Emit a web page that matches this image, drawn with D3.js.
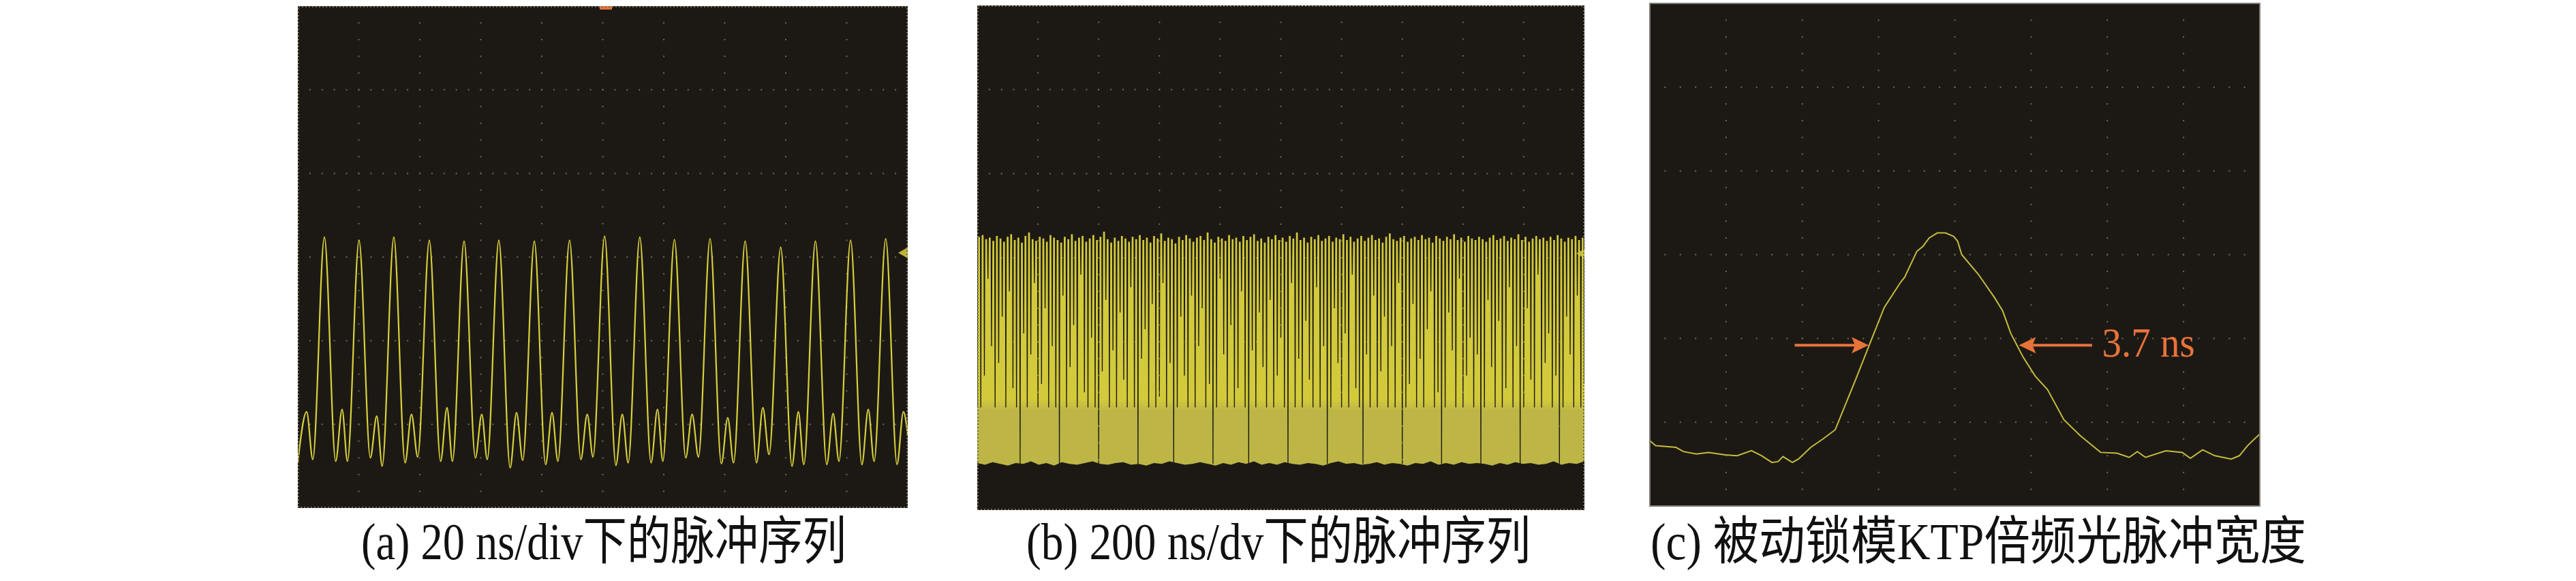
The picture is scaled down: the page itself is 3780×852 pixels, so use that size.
<!DOCTYPE html>
<html>
<head>
<meta charset="utf-8">
<style>
body { margin: 0; background: #fff; }
svg { display: block; }
.cap { font-family: "Liberation Serif", "Noto Sans CJK SC", serif; fill: #111; }
.lbl { font-family: "Liberation Serif", serif; }
</style>
<script src="https://cdn.jsdelivr.net/npm/d3@7/dist/d3.min.js"></script>
</head>
<body>
<script>

// ---------- data (time and level in screen divisions) ----------
var captions = ["(a) 20 ns/div下的脉冲序列", "(b) 200 ns/dv下的脉冲序列", "(c) 被动锁模KTP倍频光脉冲宽度"];
var divsX = [10, 10, 8];
var divsY = 6;

// (a) key points of the trace: [time, level]
var traceA = [
  [0.000, 0.55], [0.145, 1.15],
  [0.246, 0.58], [0.436, 3.24], [0.621, 0.56], [0.726, 1.18],
  [0.814, 0.56], [1.004, 3.20], [1.189, 0.60], [1.294, 1.10],
  [1.384, 0.50], [1.574, 3.24], [1.759, 0.54], [1.864, 1.12],
  [1.966, 0.61], [2.156, 3.20], [2.341, 0.56], [2.446, 1.20],
  [2.536, 0.56], [2.726, 3.19], [2.911, 0.60], [3.016, 1.12],
  [3.106, 0.58], [3.296, 3.20], [3.481, 0.48], [3.586, 1.14],
  [3.688, 0.57], [3.878, 3.19], [4.063, 0.52], [4.168, 1.14],
  [4.265, 0.56], [4.455, 3.20], [4.640, 0.58], [4.745, 1.12],
  [4.840, 0.61], [5.030, 3.25], [5.215, 0.51], [5.320, 1.12],
  [5.417, 0.54], [5.607, 3.24], [5.792, 0.54], [5.897, 1.18],
  [5.985, 0.56], [6.175, 3.21], [6.360, 0.60], [6.465, 1.12],
  [6.569, 0.61], [6.759, 3.22], [6.944, 0.53], [7.049, 1.08],
  [7.145, 0.54], [7.335, 3.19], [7.520, 0.54], [7.625, 1.20],
  [7.727, 0.64], [7.917, 3.12], [8.102, 0.50], [8.207, 1.15],
  [8.297, 0.52], [8.487, 3.19], [8.672, 0.52], [8.777, 1.13],
  [8.873, 0.56], [9.063, 3.20], [9.248, 0.52], [9.353, 1.18],
  [9.449, 0.56], [9.639, 3.22], [9.824, 0.52], [9.929, 1.15],
  [10.00, 0.88]
];

// (b) peak level of each pulse, and the level the gap after it drops to
var peaksB = [
  3.25, 3.27, 3.22, 3.24, 3.20, 3.26, 3.23, 3.19, 3.25, 3.28,
  3.21, 3.24, 3.18, 3.26, 3.30, 3.22, 3.20, 3.25, 3.23, 3.19,
  3.27, 3.24, 3.21, 3.18, 3.25, 3.22, 3.28, 3.20, 3.24, 3.26,
  3.19, 3.23, 3.27, 3.21, 3.25, 3.31, 3.22, 3.18, 3.24, 3.20,
  3.26, 3.23, 3.19, 3.25, 3.22, 3.27, 3.21, 3.24, 3.18, 3.26,
  3.23, 3.29, 3.20, 3.24, 3.22, 3.17, 3.25, 3.21, 3.27, 3.23,
  3.19, 3.24, 3.26, 3.21, 3.30, 3.22, 3.18, 3.25, 3.23, 3.20,
  3.27, 3.22, 3.24, 3.19, 3.26, 3.21, 3.25, 3.28, 3.20, 3.23,
  3.18, 3.25, 3.22, 3.27, 3.21, 3.24, 3.19, 3.26, 3.23, 3.30,
  3.21, 3.24, 3.18, 3.25, 3.22, 3.27, 3.20, 3.23, 3.26, 3.19,
  3.24, 3.22, 3.28, 3.21, 3.25, 3.19, 3.23, 3.26, 3.20, 3.24,
  3.27, 3.21, 3.23, 3.18, 3.25, 3.29, 3.22, 3.20, 3.24, 3.26,
  3.19, 3.23, 3.25, 3.21, 3.27, 3.22, 3.24, 3.18, 3.26, 3.23,
  3.20, 3.25, 3.22, 3.28, 3.21, 3.24, 3.19, 3.26, 3.23, 3.21,
  3.25, 3.22, 3.19, 3.24, 3.27, 3.21, 3.23, 3.26, 3.20, 3.24,
  3.22, 3.28, 3.21, 3.25, 3.19, 3.23, 3.26, 3.22, 3.24, 3.20,
  3.25, 3.21, 3.27, 3.23, 3.19, 3.24, 3.22, 3.26, 3.21, 3.24
];
var troughsB = [
  1.22, 1.60, 2.75, 1.95, 1.22, 1.75, 2.30, 1.22, 2.60, 1.45,
  1.22, 0.55, 2.10, 1.22, 1.85, 2.70, 1.22, 1.50, 2.40, 1.22,
  1.95, 1.22, 0.55, 2.55, 1.22, 1.70, 2.20, 1.22, 2.80, 1.40,
  1.22, 2.05, 1.22, 0.55, 1.65, 2.50, 1.22, 1.90, 1.22, 2.35,
  1.55, 1.22, 2.65, 1.22, 0.55, 1.80, 2.15, 1.22, 2.45, 1.22,
  1.35, 2.70, 1.22, 1.75, 0.55, 1.22, 2.30, 1.60, 1.22, 2.55,
  1.22, 1.95, 2.40, 1.22, 1.50, 0.55, 1.22, 2.75, 1.85, 1.22,
  2.20, 1.22, 1.45, 2.60, 1.22, 0.55, 1.90, 1.22, 2.35, 1.70,
  1.22, 2.50, 1.22, 1.60, 2.05, 1.22, 0.55, 2.70, 1.22, 1.80,
  1.22, 2.25, 1.55, 1.22, 2.65, 1.22, 1.95, 0.55, 1.22, 2.40,
  1.75, 1.22, 2.10, 1.22, 2.80, 1.45, 1.22, 0.55, 1.85, 1.22,
  2.55, 1.22, 1.65, 2.30, 1.22, 1.95, 1.22, 2.70, 0.55, 1.22,
  1.50, 2.45, 1.22, 1.80, 1.22, 2.15, 2.60, 1.22, 1.40, 0.55,
  1.22, 2.35, 1.90, 1.22, 2.75, 1.22, 1.60, 2.05, 1.22, 1.85,
  0.55, 1.22, 2.50, 1.70, 1.22, 2.25, 1.22, 1.45, 2.65, 1.22,
  1.95, 0.55, 1.22, 2.40, 1.55, 1.22, 2.80, 1.22, 1.75, 2.10,
  1.22, 1.60, 0.55, 1.22, 2.30, 1.85, 1.22, 2.55, 1.22, 1.50
];
// (b) lower edge of the noise band, left to right
var bandLowB = [
  0.56, 0.54, 0.57, 0.55, 0.53, 0.56, 0.55, 0.58, 0.54, 0.56,
  0.53, 0.57, 0.55, 0.54, 0.56, 0.58, 0.55, 0.54, 0.56, 0.57,
  0.54, 0.55, 0.53, 0.56, 0.55, 0.58, 0.56, 0.54, 0.55, 0.57,
  0.55, 0.53, 0.56, 0.54, 0.57, 0.55, 0.58, 0.54, 0.56, 0.54,
  0.57, 0.55, 0.54, 0.56, 0.55, 0.53, 0.56, 0.58, 0.55, 0.56,
  0.54, 0.55, 0.57, 0.54, 0.56, 0.55, 0.53, 0.56, 0.55, 0.58,
  0.54, 0.56, 0.54, 0.57, 0.55, 0.56, 0.55, 0.53, 0.56, 0.54,
  0.57, 0.55, 0.56, 0.54, 0.55, 0.58, 0.54, 0.56, 0.55, 0.58
];

// (c) single pulse: [time, level]
var traceC = [
  [0.000, 0.78], [0.075, 0.72], [0.343, 0.70], [0.439, 0.65], [0.610, 0.62],
  [0.771, 0.64], [0.985, 0.61], [1.146, 0.60], [1.333, 0.66], [1.467, 0.60],
  [1.601, 0.52], [1.681, 0.53], [1.746, 0.59], [1.869, 0.52], [1.949, 0.56],
  [2.110, 0.70], [2.270, 0.80], [2.431, 0.91], [2.485, 1.03], [2.699, 1.51],
  [2.886, 1.94], [3.074, 2.37], [3.288, 2.67], [3.341, 2.73], [3.502, 3.04],
  [3.582, 3.10], [3.663, 3.20], [3.770, 3.26], [3.877, 3.26], [3.984, 3.22],
  [4.037, 3.16], [4.091, 3.00], [4.305, 2.77], [4.519, 2.49], [4.627, 2.33],
  [4.734, 2.06], [4.894, 1.78], [5.055, 1.55], [5.216, 1.39], [5.430, 1.03],
  [5.644, 0.84], [5.912, 0.64], [6.126, 0.63], [6.287, 0.58], [6.394, 0.65],
  [6.501, 0.58], [6.769, 0.66], [6.983, 0.64], [7.090, 0.57], [7.250, 0.67],
  [7.411, 0.60], [7.625, 0.56], [7.732, 0.60], [7.839, 0.72], [8.000, 0.86]
];
// FWHM marker: arrow [tail, tip] times, level, label
var fwhmArrows = [[1.90, 2.87], [5.80, 4.84]];
var fwhmLevel = 1.92;
var fwhmLabel = "3.7 ns";
var fwhmLabelAt = 5.93;

// ---------- layout ----------
var width = 3780, height = 852;
var boxes = [
  {x0: 437, x1: 1332, y0: 9, y1: 745},
  {x0: 1434, x1: 2325, y0: 8, y1: 748},
  {x0: 2421, x1: 3316, y0: 5, y1: 742}
];
// caption centre and width in px
var capBox = [[886, 712], [1876, 740], [2903, 962]];
var bg = "#1c1915", dotCol = "#6e6a4d", orange = "#e8733a";

var svg = d3.select("body").append("svg")
    .attr("width", width)
    .attr("height", height);
var defs = svg.append("defs");

function makePanel(i) {
  var b = boxes[i];
  var x = d3.scaleLinear().domain([0, divsX[i]]).range([b.x0, b.x1]);
  var y = d3.scaleLinear().domain([0, divsY]).range([b.y1, b.y0]);
  var g = svg.append("g");

  defs.append("clipPath").attr("id", "clip" + i)
    .append("rect")
      .attr("x", b.x0).attr("y", b.y0)
      .attr("width", b.x1 - b.x0).attr("height", b.y1 - b.y0);

  g.append("rect")
      .attr("x", b.x0).attr("y", b.y0)
      .attr("width", b.x1 - b.x0).attr("height", b.y1 - b.y0)
      .attr("fill", bg);

  // graticule: dotted lines, 5 minor dots per division
  var minorX = d3.range(1, divsX[i] * 5).map(function(k) { return k / 5; });
  var minorY = d3.range(1, divsY * 5).map(function(k) { return k / 5; });
  var dots = [];
  d3.range(1, divsX[i]).forEach(function(c) {
    minorY.forEach(function(v) { dots.push([c, v]); });
  });
  d3.range(1, divsY).forEach(function(r) {
    minorX.forEach(function(t) { dots.push([t, r]); });
  });
  g.append("g").selectAll("rect")
    .data(dots)
    .enter().append("rect")
      .attr("x", function(d) { return x(d[0]) - 1; })
      .attr("y", function(d) { return y(d[1]) - 1; })
      .attr("width", 2).attr("height", 2)
      .attr("fill", dotCol);

  var plot = g.append("g").attr("clip-path", "url(#clip" + i + ")");
  return {g: g, plot: plot, x: x, y: y, b: b};
}

// ---- panel (a) ----
var pa = makePanel(0);
pa.plot.append("path")
    .attr("d", "M" + (pa.b.x1 - 14) + "," + pa.y(3.05) + "L" + pa.b.x1 + "," + (pa.y(3.05) - 8) +
               "L" + pa.b.x1 + "," + (pa.y(3.05) + 8) + "Z")
    .attr("fill", "#bdb43a");
pa.plot.append("path")
    .datum(traceA)
    .attr("d", d3.line()
        .x(function(d) { return pa.x(d[0]); })
        .y(function(d) { return pa.y(d[1]); })
        .curve(d3.curveMonotoneX))
    .attr("fill", "none")
    .attr("stroke", "#d8d03a")
    .attr("stroke-width", 2.2);
pa.g.append("rect")
    .attr("x", pa.x(5.05) - 9).attr("y", pa.b.y0)
    .attr("width", 18).attr("height", 5)
    .attr("fill", orange);

// ---- panel (b) ----
var pb = makePanel(1);
pb.plot.append("path")
    .attr("d", "M" + (pb.b.x1 - 12) + "," + pb.y(3.05) + "L" + pb.b.x1 + "," + (pb.y(3.05) - 7) +
               "L" + pb.b.x1 + "," + (pb.y(3.05) + 7) + "Z")
    .attr("fill", "#bdb43a");

var grad = defs.append("linearGradient").attr("id", "bandGrad")
    .attr("gradientUnits", "userSpaceOnUse")
    .attr("x1", 0).attr("x2", 0)
    .attr("y1", pb.y(1.32)).attr("y2", pb.y(1.18));
grad.append("stop").attr("offset", 0).attr("stop-color", "#d2ca3a");
grad.append("stop").attr("offset", 1).attr("stop-color", "#bdb646");

var xb = d3.scalePoint()
    .domain(d3.range(peaksB.length))
    .range([pb.b.x0, pb.b.x1])
    .padding(0.5);
var hwT = 1.35, hwB = 1.95;
var ptsB = [[pb.b.x0, 1.22]];
peaksB.forEach(function(p, i) {
  var cx = xb(i);
  var before = i === 0 ? 1.22 : troughsB[i - 1];
  ptsB.push([cx - hwB, before], [cx - hwT, p], [cx + hwT, p], [cx + hwB, troughsB[i]]);
});
ptsB.push([pb.b.x1, troughsB[troughsB.length - 1]]);

pb.plot.append("path")
    .datum(ptsB)
    .attr("d", d3.area()
        .x(function(d) { return d[0]; })
        .y0(pb.y(0.3))
        .y1(function(d) { return pb.y(d[1]); }))
    .attr("fill", "url(#bandGrad)");

var xn = d3.scalePoint()
    .domain(d3.range(bandLowB.length))
    .range([pb.b.x0, pb.b.x1]);
pb.plot.append("path")
    .datum(bandLowB)
    .attr("d", d3.area()
        .x(function(d, i) { return xn(i); })
        .y0(pb.b.y1)
        .y1(function(d) { return pb.y(d); }))
    .attr("fill", bg);

// ---- panel (c) ----
var pc = makePanel(2);
pc.plot.append("path")
    .datum(traceC)
    .attr("d", d3.line()
        .x(function(d) { return pc.x(d[0]); })
        .y(function(d) { return pc.y(d[1]); }))
    .attr("fill", "none")
    .attr("stroke", "#c4bb3c")
    .attr("stroke-width", 2);

var arrows = pc.g.append("g");
fwhmArrows.forEach(function(a) {
  var tail = pc.x(a[0]), tip = pc.x(a[1]), yy = pc.y(fwhmLevel);
  var dir = tip > tail ? 1 : -1;
  arrows.append("line")
      .attr("x1", tail).attr("x2", tip - dir * 20)
      .attr("y1", yy).attr("y2", yy)
      .attr("stroke", orange).attr("stroke-width", 4);
  arrows.append("path")
      .attr("d", "M" + tip + "," + yy + "L" + (tip - dir * 25) + "," + (yy - 12) +
                 "L" + (tip - dir * 20) + "," + yy + "L" + (tip - dir * 25) + "," + (yy + 12) + "Z")
      .attr("fill", orange);
});
pc.g.append("text")
    .attr("class", "lbl")
    .attr("transform", "translate(" + pc.x(fwhmLabelAt) + "," + (pc.y(fwhmLevel) + 17) + ") scale(1,1.08)")
    .attr("font-size", 57)
    .attr("fill", orange)
    .text(fwhmLabel);

// ---- frames ----
[pa, pb].forEach(function(p) {
  p.g.append("rect")
      .attr("x", p.b.x0 + 1).attr("y", p.b.y0 + 1)
      .attr("width", p.b.x1 - p.b.x0 - 2).attr("height", p.b.y1 - p.b.y0 - 2)
      .attr("fill", "none")
      .attr("stroke", dotCol)
      .attr("stroke-width", 2)
      .attr("stroke-dasharray", "2,3");
});
pc.g.append("rect")
    .attr("x", pc.b.x0).attr("y", pc.b.y0)
    .attr("width", pc.b.x1 - pc.b.x0).attr("height", pc.b.y1 - pc.b.y0)
    .attr("fill", "none")
    .attr("stroke", "#807a74")
    .attr("stroke-width", 2);

// ---- captions under each panel ----
svg.selectAll("text.cap")
  .data(captions)
  .enter().append("text")
    .attr("class", "cap")
    .attr("transform", function(d, i) {
      return "translate(" + (capBox[i][0] - capBox[i][1] / 2) + ",820) scale(1,1.15)";
    })
    .attr("font-size", 66)
    .attr("textLength", function(d, i) { return capBox[i][1]; })
    .attr("lengthAdjust", "spacingAndGlyphs")
    .text(function(d) { return d; });

</script>
</body>
</html>
